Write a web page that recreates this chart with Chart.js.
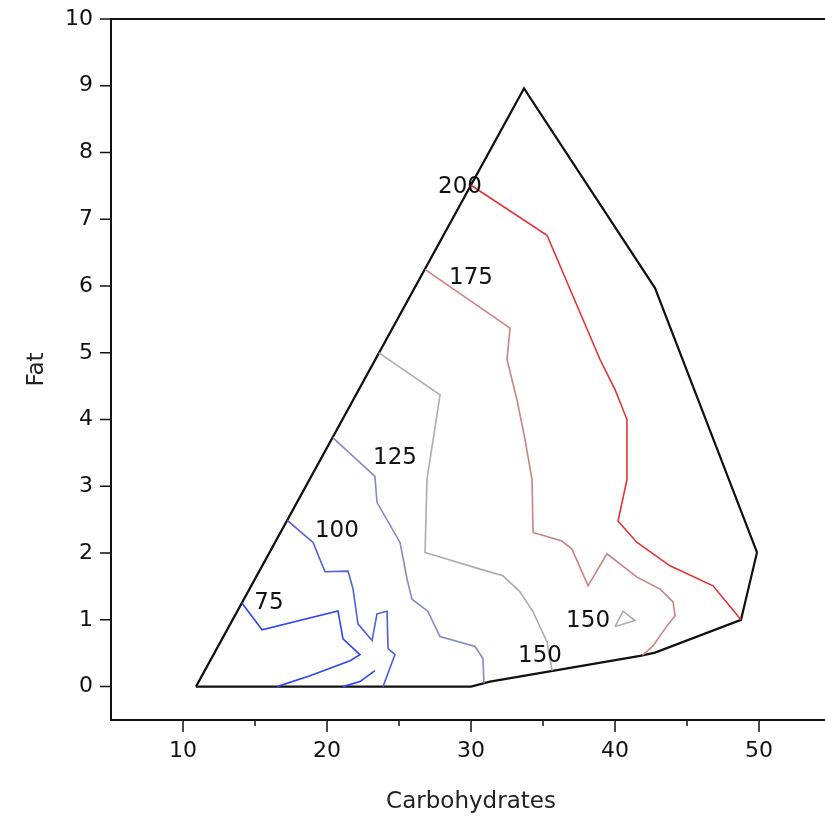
<!DOCTYPE html>
<html><head><meta charset="utf-8">
<script src="https://cdn.jsdelivr.net/npm/chart.js@4/dist/chart.umd.min.js"></script>
<style>html,body{margin:0;padding:0;overflow:hidden;background:#fff}#wrap{width:840px;height:818px}</style>
</head><body><div id="wrap"><canvas id="c" width="840" height="818"></canvas></div>
<script>
// ---- data (Carbohydrates on x, Fat on y) ----
const xTicksMajor = [10, 20, 30, 40, 50];
const xTicksMinor = [15, 25, 35, 45];
const yTicks = [0, 1, 2, 3, 4, 5, 6, 7, 8, 9, 10];

const boundaryX = [10.9, 30.0, 31.32, 41.74, 42.78, 48.75, 49.86, 42.78, 33.68, 10.9];
const boundaryY = [0, 0, 0.075, 0.46, 0.51, 1.0, 2.01, 5.97, 8.96, 0];

const c75aX = [14.09, 15.49, 20.76, 21.11, 22.29, 21.6, 18.82, 16.53];
const c75aY = [1.254, 0.851, 1.134, 0.716, 0.478, 0.388, 0.164, 0];
const c75bX = [21.11, 22.29, 23.33];
const c75bY = [0, 0.075, 0.24];

const c100X = [17.24, 19.03, 19.86, 21.46, 21.81, 22.15, 23.13, 23.47, 24.17, 24.24, 24.72, 23.89];
const c100Y = [2.49, 2.16, 1.72, 1.73, 1.46, 0.94, 0.69, 1.09, 1.13, 0.57, 0.48, 0];

const c125X = [20.4, 23.33, 23.47, 25.07, 25.56, 25.9, 27.0, 27.85, 30.28, 30.83, 30.9];
const c125Y = [3.73, 3.15, 2.76, 2.16, 1.61, 1.31, 1.13, 0.75, 0.6, 0.42, 0.05];

const c150X = [23.61, 27.85, 26.94, 26.81, 30.63, 32.22, 33.4, 34.31, 35.28, 35.63];
const c150Y = [5.0, 4.37, 3.1, 2.01, 1.76, 1.66, 1.42, 1.12, 0.67, 0.24];

const c150bX = [40.0, 40.56, 41.39, 40.0];
const c150bY = [0.9, 1.13, 0.99, 0.9];

const c175X = [26.8, 32.71, 32.5, 33.19, 33.75, 34.24, 34.31, 36.32, 37.01, 38.13, 39.44, 41.53, 43.13, 44.03, 44.17, 43.61, 42.64, 41.9];
const c175Y = [6.25, 5.37, 4.9, 4.3, 3.7, 3.1, 2.31, 2.18, 2.06, 1.51, 1.99, 1.64, 1.46, 1.27, 1.06, 0.91, 0.61, 0.47];

const c200X = [30.0, 35.28, 38.96, 40.0, 40.83, 40.83, 40.21, 41.53, 43.82, 46.81, 48.75];
const c200Y = [7.51, 6.76, 4.9, 4.45, 4.0, 3.1, 2.48, 2.16, 1.81, 1.51, 1.0];

const labelText = ['200', '175', '125', '100', '75', '150', '150'];
const labelX = [29.24, 30.0, 24.72, 20.69, 15.97, 38.13, 34.79];
const labelY = [7.49, 6.12, 3.43, 2.33, 1.25, 0.985, 0.46];

// ---- build ----
const FONT = '"DejaVu Sans", sans-serif';
function pts(xs, ys) { return xs.map((x, i) => ({ x: x, y: ys[i] })); }
function line(xs, ys, color, w) {
  return { data: pts(xs, ys), showLine: true, borderColor: color, borderWidth: w,
    pointRadius: 0, pointHoverRadius: 0, fill: false, tension: 0 };
}
const datasets = [
  line(c75aX, c75aY, 'rgb(45,70,245)', 1.6),
  line(c75bX, c75bY, 'rgb(45,70,245)', 1.6),
  line(c100X, c100Y, 'rgb(80,95,215)', 1.6),
  line(c125X, c125Y, 'rgb(130,138,195)', 1.6),
  line(c150X, c150Y, 'rgb(172,172,175)', 1.6),
  line(c150bX, c150bY, 'rgb(172,172,175)', 1.6),
  line(c175X, c175Y, 'rgb(205,130,130)', 1.6),
  line(c200X, c200Y, 'rgb(228,50,55)', 1.6),
  line(boundaryX, boundaryY, '#111', 2.2)
];

const framePlugin = {
  id: 'frame',
  afterDraw(chart) {
    const { ctx, chartArea: a, scales: { x, y } } = chart;
    ctx.save();
    ctx.strokeStyle = '#111';
    ctx.lineWidth = 2;
    ctx.strokeRect(a.left, a.top, a.right - a.left, a.bottom - a.top);
    ctx.lineWidth = 1.5;
    ctx.beginPath();
    xTicksMajor.forEach(v => { const p = x.getPixelForValue(v); ctx.moveTo(p, a.bottom); ctx.lineTo(p, a.bottom + 12); });
    xTicksMinor.forEach(v => { const p = x.getPixelForValue(v); ctx.moveTo(p, a.bottom); ctx.lineTo(p, a.bottom + 6); });
    yTicks.forEach(v => { const p = y.getPixelForValue(v); ctx.moveTo(a.left, p); ctx.lineTo(a.left - 11, p); });
    ctx.stroke();
    ctx.font = '23px ' + FONT;
    ctx.fillStyle = '#111';
    ctx.textAlign = 'center';
    ctx.textBaseline = 'middle';
    labelText.forEach((t, i) => ctx.fillText(t, x.getPixelForValue(labelX[i]), y.getPixelForValue(labelY[i])));
    ctx.restore();
  }
};

new Chart(document.getElementById('c'), {
  type: 'scatter',
  data: { datasets: datasets },
  options: {
    responsive: false,
    animation: false,
    devicePixelRatio: 1,
    layout: { padding: { top: 19, right: 9, left: 0, bottom: 0 } },
    plugins: { legend: { display: false }, tooltip: { enabled: false } },
    scales: {
      x: {
        type: 'linear', position: 'bottom', min: 5, max: 55,
        afterBuildTicks: s => { s.ticks = xTicksMajor.map(v => ({ value: v })); },
        afterFit: s => { s.height = 98; s.paddingLeft = 0; s.paddingRight = 0; },
        grid: { display: false, drawTicks: false },
        border: { display: false },
        ticks: { padding: 18, color: '#111', font: { family: FONT, size: 22 }, maxRotation: 0, autoSkip: false },
        title: { display: true, text: 'Carbohydrates', color: '#222', font: { family: FONT, size: 23 }, padding: { top: 0, bottom: 2 } }
      },
      y: {
        type: 'linear', position: 'left', min: -0.5, max: 10,
        afterBuildTicks: s => { s.ticks = yTicks.map(v => ({ value: v })); },
        afterFit: s => { s.width = 111; s.paddingTop = 0; s.paddingBottom = 0; },
        grid: { display: false, drawTicks: false },
        border: { display: false },
        ticks: { padding: 18, color: '#111', font: { family: FONT, size: 22 }, autoSkip: false },
        title: { display: true, text: 'Fat', color: '#222', font: { family: FONT, size: 23 }, padding: { top: 23, bottom: 0 } }
      }
    }
  },
  plugins: [framePlugin]
});
</script>
</body></html>
